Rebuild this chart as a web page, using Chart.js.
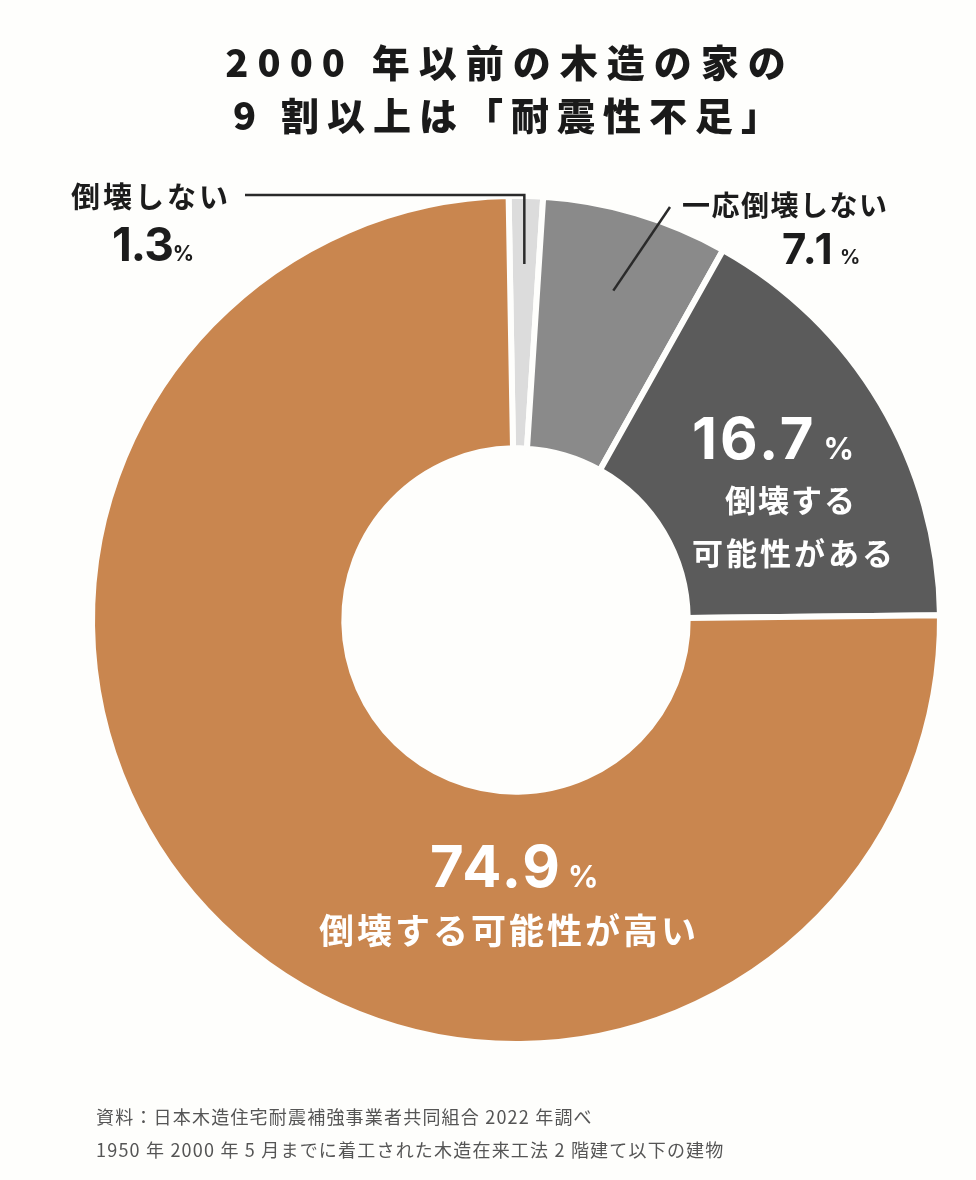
<!DOCTYPE html>
<html lang="ja">
<head>
<meta charset="utf-8">
<script src="https://cdn.jsdelivr.net/npm/chart.js@4"></script>
<style>
  html, body { margin: 0; padding: 0; }
  body {
    width: 976px; height: 1180px; position: relative; overflow: hidden;
    background: #fefefc;
    font-family: "Noto Sans CJK JP", "Noto Sans", sans-serif;
    color: #1c1c1c;
  }
  #wrap { position: absolute; left: 0; top: 0; width: 976px; height: 1180px; }
  .t { position: absolute; white-space: nowrap; line-height: 1; font-weight: 700; }
  .num { font-family: Inter, "Liberation Sans", sans-serif; font-weight: 700; }
  .pct { font-family: Inter, "Liberation Sans", sans-serif; font-weight: 700; }
  .w { color: #ffffff; }
  #title {
    position: absolute; left: 44px; top: 34px; width: 932px; text-align: center;
    font-size: 38px; line-height: 53px; font-weight: 900; letter-spacing: 9px; color: #1a1a1a;
  }
  #title .l2 { letter-spacing: 8px; }
  #note {
    position: absolute; left: 96px; top: 1100px; font-size: 18px; line-height: 33px;
    letter-spacing: 1.2px; color: #555; font-weight: 400; white-space: nowrap;
  }
</style>
</head>
<body>
<div id="wrap"><canvas id="donut"></canvas></div>

<div id="title">2000 年以前の木造の家の<br><span class="l2">9 割以上は「耐震性不足」</span></div>

<div class="t" style="left:71px; top:181px; font-size:29px; letter-spacing:3px;">倒壊しない</div>
<div class="t" style="left:112px; top:221px;"><span class="num" style="font-size:46px; letter-spacing:-1px;">1.3</span><span class="pct" style="font-size:21px;">%</span></div>

<div class="t" style="left:682px; top:190px; font-size:28px; letter-spacing:1.5px;">一応倒壊しない</div>
<div class="t" style="left:782px; top:228px;"><span class="num" style="font-size:42px; letter-spacing:1.5px;">7.1</span><span class="pct" style="font-size:20px; margin-left:6px;">%</span></div>

<div class="t w" style="left:692px; top:409px;"><span class="num" style="font-size:58px; letter-spacing:3px;">16.7</span><span class="pct" style="font-size:30px; margin-left:7px;">%</span></div>
<div class="t w" style="left:725px; top:483px; font-size:31px; letter-spacing:2px;">倒壊する</div>
<div class="t w" style="left:692px; top:536px; font-size:31px; letter-spacing:3px;">可能性がある</div>

<div class="t w" style="left:430px; top:837px;"><span class="num" style="font-size:58px; letter-spacing:2px;">74.9</span><span class="pct" style="font-size:30px; margin-left:6px;">%</span></div>
<div class="t w" style="left:319px; top:911px; font-size:35px; letter-spacing:3px;">倒壊する可能性が高い</div>

<div id="note">資料：日本木造住宅耐震補強事業者共同組合 2022 年調べ<br>1950 年 2000 年 5 月までに着工された木造在来工法 2 階建て以下の建物</div>

<script>
// chart data
const categories = ['倒壊しない', '一応倒壊しない', '倒壊する可能性がある', '倒壊する可能性が高い'];
const shares = [1.3, 7.1, 16.7, 74.9];
const sliceColors = ['#dcdcdc', '#8a8a8a', '#5b5b5b', '#c9864f'];

// leader lines from the two outside labels into their slices
const leaderLines = {
  id: 'leaderLines',
  afterDatasetsDraw(chart) {
    const arcs = chart.getDatasetMeta(0).data;
    const ctx = chart.ctx;
    const pointIn = (arc, k) => {
      const mid = (arc.startAngle + arc.endAngle) / 2;
      const r = arc.outerRadius * k;
      return { x: arc.x + Math.cos(mid) * r, y: arc.y + Math.sin(mid) * r };
    };
    ctx.save();
    ctx.strokeStyle = '#2a2a2a';
    ctx.lineWidth = 2.5;

    const p0 = pointIn(arcs[0], 0.84);
    ctx.beginPath();
    ctx.moveTo(245, 195);
    ctx.lineTo(p0.x, 195);
    ctx.lineTo(p0.x, p0.y);
    ctx.stroke();

    const p1 = pointIn(arcs[1], 0.81);
    ctx.beginPath();
    ctx.moveTo(670, 207);
    ctx.lineTo(p1.x, p1.y);
    ctx.stroke();
    ctx.restore();
  }
};

new Chart(document.getElementById('donut'), {
  type: 'doughnut',
  data: {
    labels: categories,
    datasets: [{
      data: shares,
      backgroundColor: sliceColors,
      borderColor: '#fefefc',
      borderWidth: 6,
      hoverOffset: 0
    }]
  },
  options: {
    responsive: true,
    maintainAspectRatio: false,
    animation: false,
    rotation: -1,
    cutout: '40.5%',
    layout: { padding: { left: 89, right: 33, top: 193, bottom: 133 } },
    plugins: {
      legend: { display: false },
      tooltip: { enabled: false },
      title: { display: false }
    }
  },
  plugins: [leaderLines]
});
</script>
</body>
</html>
